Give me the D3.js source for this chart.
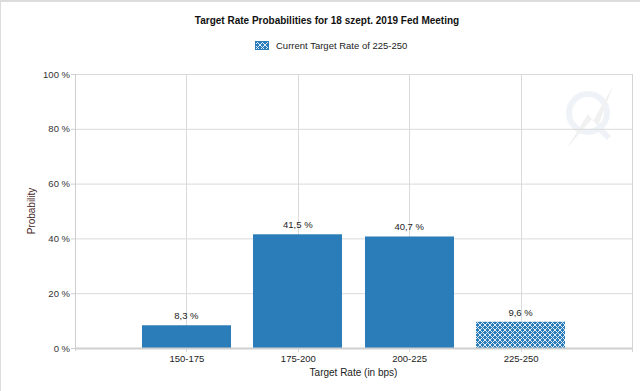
<!DOCTYPE html>
<html lang="en">
    <head>
        <meta charset="UTF-8" />
        <title>Target Rate Probabilities</title>
        <script src="https://d3js.org/d3.v7.js"></script>
    </head>

    <body>
        <div id="dataviz"></div>
    </body>

    <script>
        const categories = ["150-175", "175-200", "200-225", "225-250"];
        const probabilities = [8.3, 41.5, 40.7, 9.6];
        const currentRate = "225-250";
        const yTicks = [0, 20, 40, 60, 80, 100];

        const W = 640, H = 391;
        const plot = {left: 75, right: 632, top: 74, bottom: 348};
        const barColor = "#2b7dba";

        const svg = d3.select("#dataviz")
            .append("svg")
            .attr("width", W)
            .attr("height", H)
            .style("font-family", "'Liberation Sans', Arial, sans-serif");

        // hatch pattern for the current target rate
        const defs = svg.append("defs");
        const pat = defs.append("pattern")
            .attr("id", "hatch")
            .attr("patternUnits", "userSpaceOnUse")
            .attr("width", 5)
            .attr("height", 5);
        pat.append("rect").attr("width", 5).attr("height", 5).attr("fill", barColor);
        pat.append("path")
            .attr("d", "M0,0 L5,5 M5,0 L0,5")
            .attr("stroke", "#ffffff")
            .attr("stroke-width", 1)
            .attr("opacity", 0.85);

        svg.append("rect").attr("width", W).attr("height", H).attr("fill", "#fff");
        // frame lines at the top and left
        svg.append("rect").attr("x", 0).attr("y", 0).attr("width", W).attr("height", 2).attr("fill", "#dcdcdc");
        svg.append("rect").attr("x", 0).attr("y", 0).attr("width", 1).attr("height", H).attr("fill", "#dcdcdc");

        const x = d3.scalePoint()
            .domain(categories)
            .range([plot.left, plot.right])
            .padding(1);
        const barW = x.step() * 0.8;

        const y = d3.scaleLinear()
            .domain([0, 100])
            .range([plot.bottom, plot.top]);

        // watermark
        const wm = svg.append("g").attr("opacity", 0.09);
        wm.append("circle").attr("cx", 588).attr("cy", 113).attr("r", 19)
            .attr("fill", "none").attr("stroke", "#5a86b0").attr("stroke-width", 6);
        wm.append("path")
            .attr("d", "M567,148 L588,114 L593,121 L613,86 L598,126 L592,119 Z")
            .attr("fill", "#707070");
        wm.append("path").attr("d", "M597,126 L609,138").attr("stroke", "#5a86b0").attr("stroke-width", 6);

        // horizontal grid
        svg.append("g")
            .selectAll("line")
            .data(yTicks.filter(d => d > 0))
            .join("line")
            .attr("x1", plot.left).attr("x2", plot.right)
            .attr("y1", d => y(d) + 0.5).attr("y2", d => y(d) + 0.5)
            .attr("stroke", "#dadada");

        // vertical grid at categories, extending as ticks
        svg.append("g")
            .selectAll("line")
            .data(categories)
            .join("line")
            .attr("x1", d => Math.round(x(d)) + 0.5).attr("x2", d => Math.round(x(d)) + 0.5)
            .attr("y1", plot.top).attr("y2", plot.bottom + 4)
            .attr("stroke", "#dadada");

        // right border
        svg.append("line")
            .attr("x1", plot.right + 0.5).attr("x2", plot.right + 0.5)
            .attr("y1", plot.top).attr("y2", plot.bottom + 4)
            .attr("stroke", "#d4d4d4");

        // bars
        svg.append("g")
            .selectAll("rect")
            .data(categories)
            .join("rect")
            .attr("x", d => Math.round(x(d) - barW / 2))
            .attr("y", (d, i) => y(probabilities[i]))
            .attr("width", Math.round(barW))
            .attr("height", (d, i) => y(0) - y(probabilities[i]))
            .attr("fill", d => d === currentRate ? "url(#hatch)" : barColor);

        // value labels
        svg.append("g")
            .selectAll("text")
            .data(categories)
            .join("text")
            .attr("x", d => x(d))
            .attr("y", (d, i) => y(probabilities[i]) - 6)
            .attr("text-anchor", "middle")
            .attr("font-size", 9.5)
            .attr("fill", "#222")
            .text((d, i) => probabilities[i].toFixed(1).replace(".", ",") + " %");

        // axes lines
        svg.append("line")
            .attr("x1", plot.left).attr("x2", plot.right + 1)
            .attr("y1", plot.bottom + 0.5).attr("y2", plot.bottom + 0.5)
            .attr("stroke", "#cfcfcf").attr("stroke-width", 2);
        svg.append("line")
            .attr("x1", plot.left + 0.5).attr("x2", plot.left + 0.5)
            .attr("y1", plot.top).attr("y2", plot.bottom + 3)
            .attr("stroke", "#cfcfcf");

        // y axis
        const yAxis = svg.append("g")
            .attr("transform", `translate(${plot.left},0)`)
            .call(d3.axisLeft(y).tickValues(yTicks).tickSize(4).tickFormat(d => d + " %"));
        yAxis.select(".domain").remove();
        yAxis.selectAll(".tick line").attr("stroke", "#cfcfcf");
        yAxis.selectAll("text")
            .attr("font-family", "'Liberation Sans', Arial, sans-serif")
            .attr("font-size", 9.5).attr("fill", "#333").attr("x", -5);

        // x axis labels
        const xAxis = svg.append("g")
            .attr("transform", `translate(0,${plot.bottom})`)
            .call(d3.axisBottom(x).tickSize(0).tickPadding(7));
        xAxis.select(".domain").remove();
        xAxis.selectAll("text")
            .attr("font-family", "'Liberation Sans', Arial, sans-serif")
            .attr("font-size", 9.5).attr("fill", "#222");

        // axis titles
        svg.append("text")
            .attr("x", (plot.left + plot.right) / 2)
            .attr("y", 376)
            .attr("text-anchor", "middle")
            .attr("font-size", 10)
            .attr("fill", "#222")
            .text("Target Rate (in bps)");
        svg.append("text")
            .attr("transform", `translate(35,${(plot.top + plot.bottom) / 2}) rotate(-90)`)
            .attr("text-anchor", "middle")
            .attr("font-size", 10)
            .attr("fill", "#4a2a2a")
            .text("Probability");

        // title
        svg.append("text")
            .attr("x", 327)
            .attr("y", 24)
            .attr("text-anchor", "middle")
            .attr("font-size", 10)
            .attr("font-weight", "bold")
            .attr("fill", "#111")
            .text("Target Rate Probabilities for 18 szept. 2019 Fed Meeting");

        // legend
        const lg = svg.append("g");
        lg.append("rect")
            .attr("x", 255.5).attr("y", 41.5).attr("width", 13).attr("height", 8)
            .attr("fill", "url(#hatch)").attr("stroke", barColor);
        lg.append("text")
            .attr("x", 276).attr("y", 49)
            .attr("font-size", 9.5)
            .attr("fill", "#222")
            .text("Current Target Rate of " + currentRate);
    </script>

    <style>
        body { margin: 0; }
        svg { display: block; }
    </style>
</html>
